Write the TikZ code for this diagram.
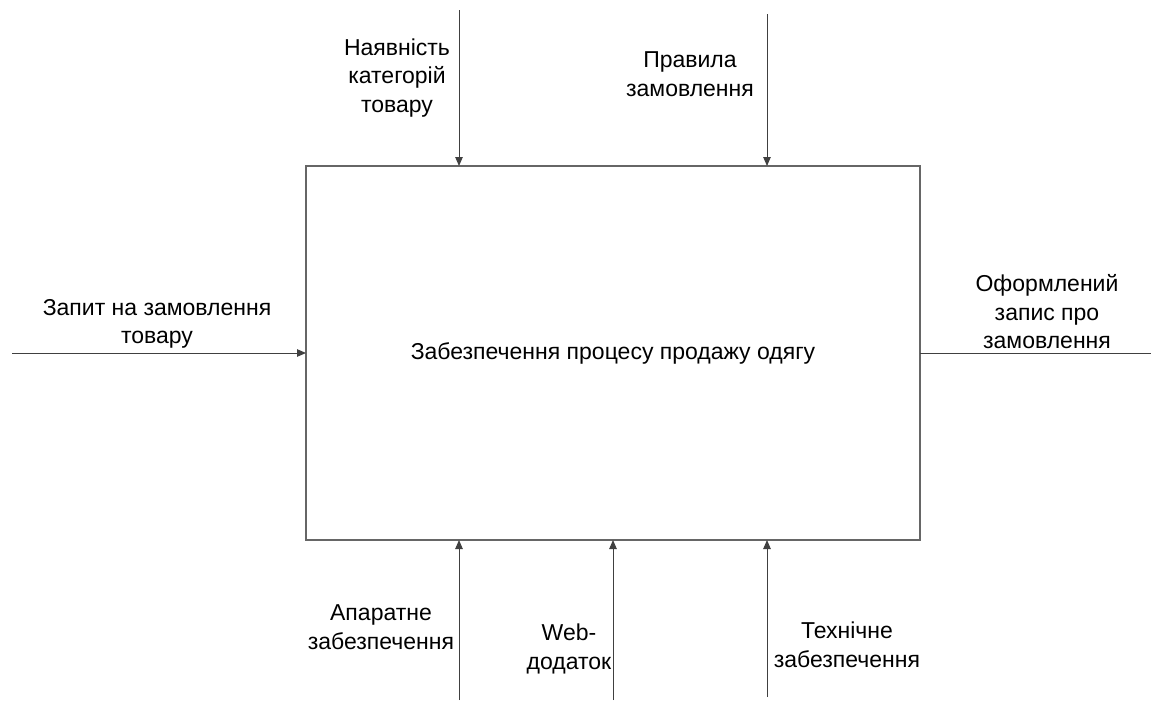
\documentclass[tikz,border=0pt]{standalone}
\usepackage{fontspec}
\setmainfont{Liberation Sans}
\usetikzlibrary{arrows.meta}
\begin{document}
\begin{tikzpicture}[x=1pt,y=-1pt,
  lbl/.style={align=center,font=\fontsize{23}{28.5}\selectfont,inner sep=0pt},
  conn/.style={draw=black!75,line width=1pt},
  arr/.style={conn,-{Triangle[length=9pt,width=7.5pt]}}]
\useasboundingbox (0,0) rectangle (1151,702);
\node[draw=black!60,line width=1.3pt,minimum width=614pt,minimum height=374pt,inner sep=0pt] (box) at (613,353) {};
\node[lbl] (main) at (613,353) {Забезпечення процесу продажу одягу};
% controls
\coordinate (c1s) at (459,10);
\coordinate (c1e) at (459,166);
\coordinate (c2s) at (767,14);
\coordinate (c2e) at (767,166);
\draw[arr] (c1s) -- (c1e);
\draw[arr] (c2s) -- (c2e);
\node[lbl] (l1) at (397,78) {Наявність\\категорій\\товару};
\node[lbl] (l2) at (690,74) {Правила\\замовлення};
% input
\coordinate (is) at (12,353);
\coordinate (ie) at (306,353);
\draw[arr] (is) -- (ie);
\node[lbl] (l3) at (157,324) {Запит на замовлення\\товару};
% output
\coordinate (os) at (920,353);
\coordinate (oe) at (1151,353);
\draw[conn] (os) -- (oe);
\node[lbl] (l4) at (1047,312) {Оформлений\\запис про\\замовлення};
% mechanisms
\coordinate (m1s) at (459,700);
\coordinate (m1e) at (459,540);
\coordinate (m2s) at (613,700);
\coordinate (m2e) at (613,540);
\coordinate (m3s) at (767,697);
\coordinate (m3e) at (767,540);
\draw[arr] (m1s) -- (m1e);
\draw[arr] (m2s) -- (m2e);
\draw[arr] (m3s) -- (m3e);
\node[lbl] (l5) at (381,627) {Апаратне\\забезпечення};
\node[lbl] (l6) at (569,649) {Web-\\додаток};
\node[lbl] (l7) at (847,645) {Технічне\\забезпечення};
\end{tikzpicture}
\end{document}
